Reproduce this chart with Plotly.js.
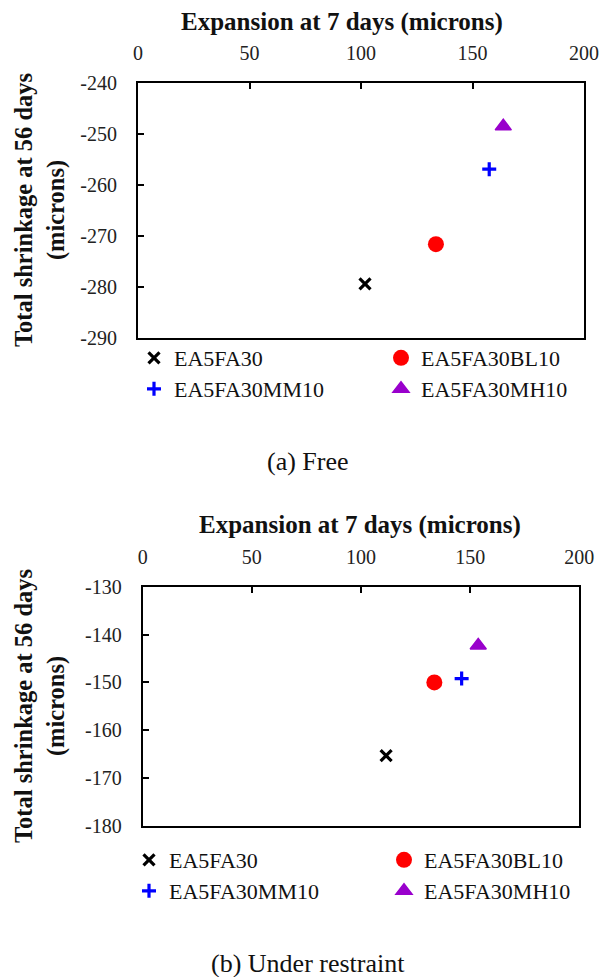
<!DOCTYPE html>
<html>
<head>
<meta charset="utf-8">
<script src="https://cdn.plot.ly/plotly-3.0.1.min.js"></script>
<style>html,body{margin:0;padding:0;background:#fff;}#chart{width:603px;height:977px;}</style>
</head>
<body>
<div id="chart"></div>
<script>
// Data
const categories = ['EA5FA30', 'EA5FA30BL10', 'EA5FA30MM10', 'EA5FA30MH10'];
const freeExpansion = [101.8, 133.6, 157.5, 163.8];
const freeShrinkage = [-279.4, -271.6, -256.9, -248.5];
const restrainedExpansion = [111.5, 133.6, 146.1, 153.7];
const restrainedShrinkage = [-165.3, -150.0, -149.2, -142.3];
const xTickValues = [0, 50, 100, 150, 200];
const xTickLabels = ['0', '50', '100', '150', '200'];
const freeYTicks = [-290, -280, -270, -260, -250, -240];
const freeYLabels = ['-290', '-280', '-270', '-260', '-250', '-240'];
const restrainedYTicks = [-180, -170, -160, -150, -140, -130];
const restrainedYLabels = ['-180', '-170', '-160', '-150', '-140', '-130'];
const xTitle = 'Expansion at 7 days (microns)';
const yTitle = 'Total shrinkage at 56 days<br>(microns)';
const captions = ['(a) Free', '(b) Under restraint'];

const FONT = 'Liberation Serif, Times New Roman, serif';
const markerStyles = [
  {symbol: 'x-thin', size: 11, color: '#000000', line: {color: '#000000', width: 3.2}},
  {symbol: 'circle', size: 16, color: '#FF0000', line: {width: 0}},
  {symbol: 'cross-thin', size: 10, color: '#0000FF', line: {color: '#0000FF', width: 3.2}},
  {symbol: 'triangle-up', size: 14, color: '#9900CC', line: {color: '#9900CC', width: 1.5}}
];

const W = 603, H = 977;
const px = v => v / W;
const py = v => (H - v) / H;

// legend slot (left x, centre y) for each of the 8 entries, in picture pixels
const legendSlots = [
  [134, 358], [381, 358], [134, 389], [381, 389],
  [129, 860], [384, 860], [129, 891], [384, 891]
];
const legendKey = k => (k === 0 ? 'legend' : 'legend' + (k + 1));

const traces = [];
function addPanel(xs, ys, xa, ya, offset) {
  categories.forEach((name, i) => {
    traces.push({
      type: 'scatter', mode: 'markers',
      x: [xs[i]], y: [ys[i]], name: name,
      xaxis: xa, yaxis: ya,
      legend: legendKey(offset + i),
      marker: markerStyles[i],
      hoverinfo: 'x+y+name'
    });
  });
}
addPanel(freeExpansion, freeShrinkage, 'x', 'y', 0);
addPanel(restrainedExpansion, restrainedShrinkage, 'x2', 'y2', 4);

function xAxis(domain, anchor) {
  return {
    domain: domain, anchor: anchor, side: 'top', range: [0, 200],
    tickvals: xTickValues, ticktext: xTickLabels,
    ticks: 'inside', ticklen: 6, tickwidth: 1.6, tickcolor: '#000',
    showline: true, linewidth: 2, linecolor: '#000', mirror: true,
    showgrid: false, zeroline: false, ticklabelstandoff: 13,
    tickfont: {family: FONT, size: 20, color: '#222'}
  };
}
function yAxis(domain, anchor, range, ticks, labels) {
  return {
    domain: domain, anchor: anchor, range: range,
    tickvals: ticks, ticktext: labels,
    ticks: 'inside', ticklen: 6, tickwidth: 1.6, tickcolor: '#000',
    showline: true, linewidth: 2, linecolor: '#000', mirror: true,
    showgrid: false, zeroline: false, ticklabelstandoff: 15,
    tickfont: {family: FONT, size: 20, color: '#222'}
  };
}

const layout = {
  width: W, height: H,
  margin: {l: 0, r: 0, t: 0, b: 0},
  paper_bgcolor: '#fff', plot_bgcolor: '#fff',
  showlegend: true,
  xaxis: xAxis([px(138), px(584)], 'y'),
  yaxis: yAxis([py(338), py(83)], 'x', [-290, -240], freeYTicks, freeYLabels),
  xaxis2: xAxis([px(142.7), px(579.3)], 'y2'),
  yaxis2: yAxis([py(826), py(586.7)], 'x2', [-180, -130], restrainedYTicks, restrainedYLabels),
  annotations: [
    {text: '<b>' + xTitle + '</b>', x: px(342), y: py(22), xref: 'paper', yref: 'paper', showarrow: false,
     xanchor: 'center', yanchor: 'middle', font: {family: FONT, size: 25, color: '#111'}},
    {text: '<b>' + xTitle + '</b>', x: px(360), y: py(525), xref: 'paper', yref: 'paper', showarrow: false,
     xanchor: 'center', yanchor: 'middle', font: {family: FONT, size: 25, color: '#111'}},
    {text: '<b>' + yTitle + '</b>', x: px(40), y: py(210), xref: 'paper', yref: 'paper', showarrow: false,
     textangle: -90, xanchor: 'center', yanchor: 'middle', font: {family: FONT, size: 24.5, color: '#111'}},
    {text: '<b>' + yTitle + '</b>', x: px(40), y: py(706), xref: 'paper', yref: 'paper', showarrow: false,
     textangle: -90, xanchor: 'center', yanchor: 'middle', font: {family: FONT, size: 24.5, color: '#111'}},
    {text: captions[0], x: px(308), y: py(461), xref: 'paper', yref: 'paper', showarrow: false,
     xanchor: 'center', yanchor: 'middle', font: {family: FONT, size: 26, color: '#111'}},
    {text: captions[1], x: px(307.5), y: py(963), xref: 'paper', yref: 'paper', showarrow: false,
     xanchor: 'center', yanchor: 'middle', font: {family: FONT, size: 26, color: '#111'}}
  ]
};
legendSlots.forEach((s, k) => {
  layout[legendKey(k)] = {
    orientation: 'v', x: px(s[0]), xanchor: 'left', y: py(s[1]), yanchor: 'middle',
    bgcolor: 'rgba(0,0,0,0)', borderwidth: 0,
    font: {family: FONT, size: 22, color: '#111'}, itemclick: false, itemdoubleclick: false
  };
});

Plotly.newPlot('chart', traces, layout, {displayModeBar: false, responsive: false});
</script>
</body>
</html>
